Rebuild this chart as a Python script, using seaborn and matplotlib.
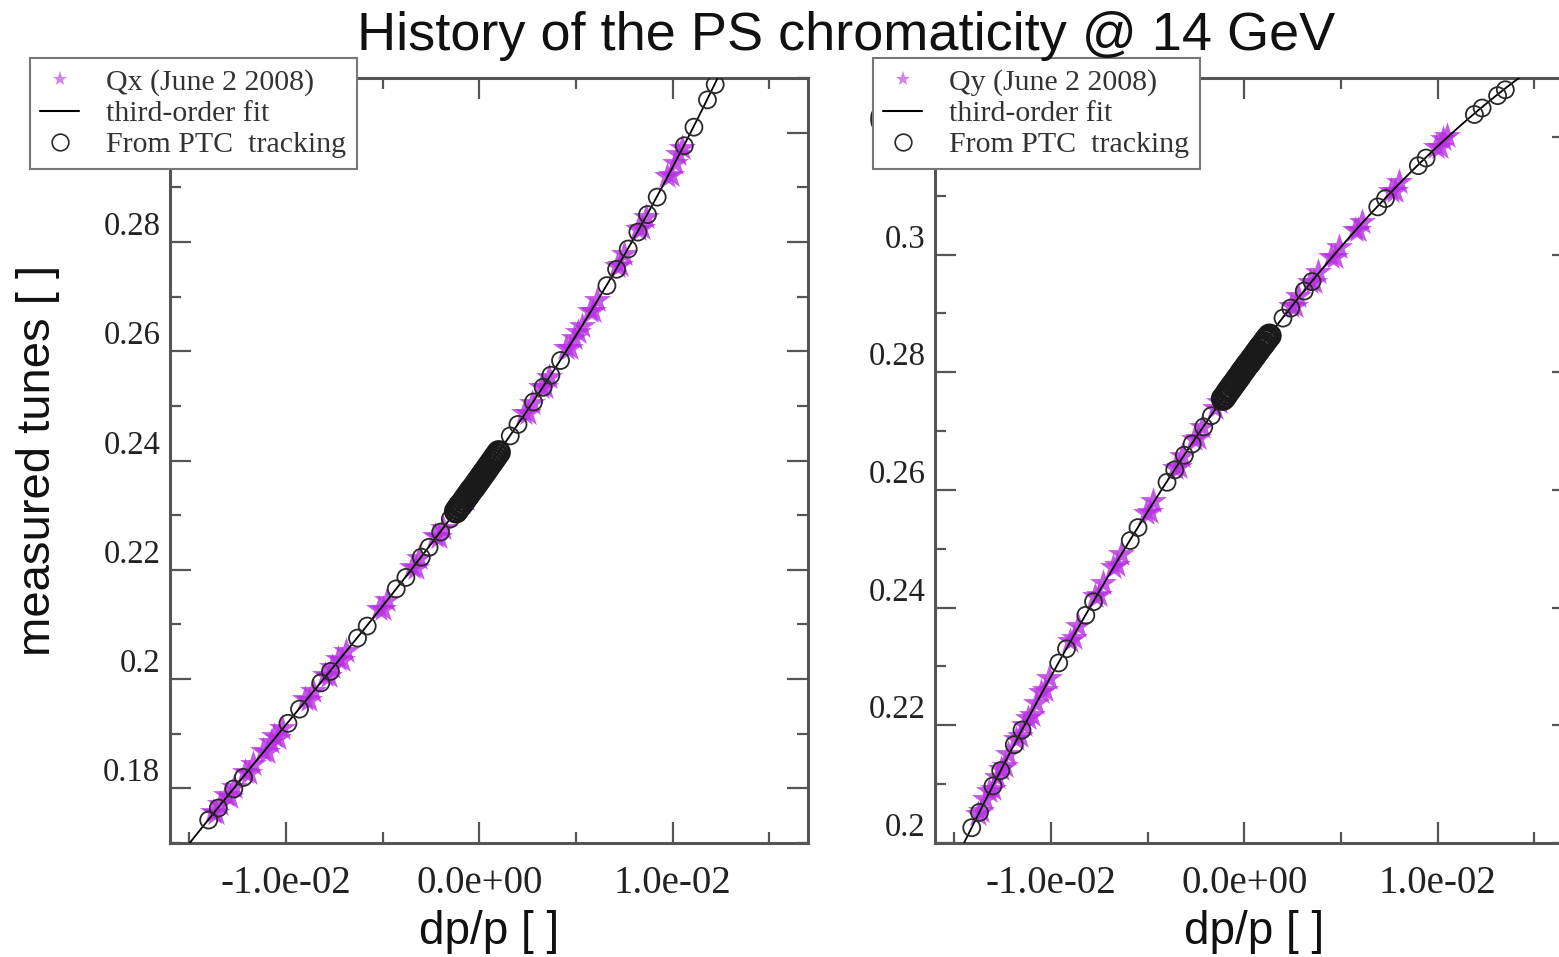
import numpy as np
import seaborn as sns
import matplotlib.pyplot as plt
from matplotlib.lines import Line2D
from matplotlib.ticker import FixedLocator, MultipleLocator

# DATA
# horizontal tune Qx, measured June 2 2008
qx_meas_dp = [-0.0138, -0.0136, -0.0134, -0.0131, -0.0129, -0.0127, -0.0121, -0.0119, -0.0117,
              -0.0112, -0.0110, -0.0108, -0.0106, -0.0104, -0.0102, -0.0090, -0.0088, -0.0086,
              -0.0080, -0.0078, -0.0076, -0.0073, -0.0071, -0.0069, -0.0052, -0.0050, -0.0048,
              -0.0035, -0.0033, -0.0031, -0.0023, -0.0021, -0.0019, -0.0009, -0.0007,
              0.0023, 0.0025, 0.0027, 0.0032, 0.0034, 0.0036, 0.0045, 0.0047, 0.0049,
              0.0051, 0.0053, 0.0057, 0.0059, 0.0061, 0.0071, 0.0073, 0.0075,
              0.0082, 0.0084, 0.0086, 0.0097, 0.0099, 0.0101, 0.0103, 0.0105]
qx_meas = [0.1757, 0.1754, 0.1772, 0.1787, 0.1785, 0.1803, 0.1830, 0.1828, 0.1845,
           0.1869, 0.1866, 0.1884, 0.1895, 0.1893, 0.1910, 0.1964, 0.1962, 0.1979,
           0.2007, 0.2005, 0.2022, 0.2037, 0.2035, 0.2052, 0.2129, 0.2128, 0.2145,
           0.2206, 0.2204, 0.2221, 0.2261, 0.2260, 0.2277, 0.2324, 0.2329,
           0.2487, 0.2487, 0.2505, 0.2534, 0.2534, 0.2553, 0.2605, 0.2606, 0.2625,
           0.2636, 0.2647, 0.2673, 0.2674, 0.2693, 0.2756, 0.2757, 0.2777,
           0.2824, 0.2826, 0.2846, 0.2921, 0.2923, 0.2944, 0.2961, 0.2971]

# Qx from PTC tracking (sparse points and the dense scan around dp = 0)
qx_ptc_dp = [-0.0140, -0.0135, -0.0127, -0.0122, -0.0099, -0.0093, -0.0082, -0.0077,
             -0.0063, -0.0058, -0.0043, -0.0038, -0.0030, -0.0026, -0.0020, -0.0015,
             0.0016, 0.0020, 0.0028, 0.0033, 0.0037, 0.0042, 0.0066, 0.0071,
             0.0077, 0.0082, 0.0087, 0.0092, 0.0106, 0.0111, 0.0118, 0.0122]
qx_ptc = [0.1742, 0.1764, 0.1799, 0.1820, 0.1919, 0.1945, 0.1993, 0.2014,
          0.2075, 0.2097, 0.2165, 0.2186, 0.2223, 0.2241, 0.2269, 0.2293,
          0.2445, 0.2466, 0.2507, 0.2534, 0.2556, 0.2583, 0.2720, 0.2750,
          0.2787, 0.2818, 0.2850, 0.2882, 0.2976, 0.3010, 0.3060, 0.3088]
qx_scan_dp = [-0.0012, -0.0011, -0.0010, -0.0009, -0.0008, -0.0007, -0.0006, -0.0005,
              -0.0004, -0.0003, -0.0002, -0.0001, 0.0000, 0.0001, 0.0002, 0.0003,
              0.0004, 0.0005, 0.0006, 0.0007, 0.0008, 0.0009, 0.0010]
qx_scan = [0.2307, 0.2312, 0.2317, 0.2321, 0.2326, 0.2331, 0.2336, 0.2341,
           0.2346, 0.2350, 0.2355, 0.2360, 0.2365, 0.2370, 0.2375, 0.2380,
           0.2385, 0.2390, 0.2395, 0.2400, 0.2405, 0.2410, 0.2415]

# vertical tune Qy, measured June 2 2008
qy_meas_dp = [-0.0138, -0.0136, -0.0134, -0.0132, -0.0130, -0.0128, -0.0126, -0.0124, -0.0122,
              -0.0118, -0.0116, -0.0114, -0.0112, -0.0110, -0.0108, -0.0105, -0.0103, -0.0101,
              -0.0090, -0.0088, -0.0086, -0.0077, -0.0075, -0.0073, -0.0068, -0.0066, -0.0064,
              -0.0051, -0.0049, -0.0047, -0.0036, -0.0034, -0.0032, -0.0026, -0.0024, -0.0022,
              -0.0015, -0.0013, 0.0024, 0.0026, 0.0028, 0.0034, 0.0036, 0.0038,
              0.0045, 0.0047, 0.0049, 0.0057, 0.0059, 0.0061, 0.0076, 0.0078, 0.0080,
              0.0099, 0.0101, 0.0103, 0.0105]
qy_meas = [0.2049, 0.2054, 0.2075, 0.2088, 0.2092, 0.2113, 0.2126, 0.2131, 0.2151,
           0.2176, 0.2181, 0.2201, 0.2213, 0.2217, 0.2238, 0.2256, 0.2260, 0.2280,
           0.2344, 0.2348, 0.2368, 0.2419, 0.2422, 0.2442, 0.2469, 0.2472, 0.2491,
           0.2560, 0.2562, 0.2582, 0.2637, 0.2639, 0.2658, 0.2686, 0.2688, 0.2707,
           0.2739, 0.2749, 0.2912, 0.2913, 0.2930, 0.2953, 0.2953, 0.2970,
           0.2996, 0.2996, 0.3012, 0.3041, 0.3041, 0.3056, 0.3108, 0.3108, 0.3123,
           0.3182, 0.3182, 0.3196, 0.3201]

# Qy from PTC tracking (sparse points and the dense scan around dp = 0)
qy_ptc_dp = [-0.0141, -0.0137, -0.0130, -0.0126, -0.0119, -0.0115, -0.0096, -0.0092,
             -0.0082, -0.0078, -0.0059, -0.0055, -0.0040, -0.0036, -0.0031, -0.0027,
             -0.0021, -0.0017, 0.0020, 0.0024, 0.0031, 0.0035, 0.0069,
             0.0073, 0.0090, 0.0094, 0.0119, 0.0123, 0.0131, 0.0135]
qy_ptc = [0.2026, 0.2052, 0.2097, 0.2123, 0.2167, 0.2192, 0.2306, 0.2330,
          0.2387, 0.2410, 0.2514, 0.2536, 0.2613, 0.2634, 0.2659, 0.2678,
          0.2707, 0.2726, 0.2892, 0.2909, 0.2938, 0.2954, 0.3081,
          0.3095, 0.3151, 0.3164, 0.3238, 0.3249, 0.3270, 0.3280]
qy_scan_dp = [-0.0011, -0.0010, -0.0009, -0.0008, -0.0007, -0.0006, -0.0005, -0.0004,
              -0.0003, -0.0002, -0.0001, 0.0000, 0.0001, 0.0002, 0.0003, 0.0004,
              0.0005, 0.0006, 0.0007, 0.0008, 0.0009, 0.0010, 0.0011, 0.0012, 0.0013]
qy_scan = [0.2755, 0.2759, 0.2764, 0.2769, 0.2773, 0.2778, 0.2782, 0.2787,
           0.2791, 0.2796, 0.2801, 0.2805, 0.2810, 0.2814, 0.2818, 0.2823,
           0.2827, 0.2832, 0.2836, 0.2841, 0.2845, 0.2849, 0.2854, 0.2858, 0.2862]

# AXES SETTINGS
x_ticks = [-0.01, 0.0, 0.01]
x_tick_labels = ["-1.0e-02", "0.0e+00", "1.0e-02"]
x_minor = [-0.015, -0.005, 0.005, 0.015]
qx_yticks = [0.18, 0.20, 0.22, 0.24, 0.26, 0.28, 0.30]
qx_ytick_labels = ["0.18", "0.2", "0.22", "0.24", "0.26", "0.28", ""]  # 0.3 is under the legend
qy_yticks = [0.20, 0.22, 0.24, 0.26, 0.28, 0.30, 0.32]
qy_ytick_labels = ["0.2", "0.22", "0.24", "0.26", "0.28", "0.3", "0.32"]

meas_color = "#b82ee2"
serif = ["Liberation Serif", "DejaVu Serif"]
sans = ["Liberation Sans", "DejaVu Sans"]

sns.set_theme(style="white")
plt.rcParams['font.family'] = sans


def draw_panel(ax, dp, q, ptc_dp, ptc_q, scan_dp, scan_q, ylim, yticks, ytick_labels,
               legend_name, legend_x):
    ax.set_xlim(-0.016, 0.017)
    ax.set_ylim(*ylim)

    # measured tunes
    sns.scatterplot(x=dp, y=q, ax=ax, marker="*", s=420, color=meas_color,
                    alpha=0.8, linewidth=0, zorder=2)
    # third-order fit of the measurement
    sns.regplot(x=dp, y=q, ax=ax, order=3, scatter=False, ci=None, truncate=False,
                line_kws=dict(color="black", lw=1.3, zorder=3))
    # PTC tracking
    sns.scatterplot(x=ptc_dp, y=ptc_q, ax=ax, marker="o", s=150, facecolor="none",
                    edgecolor="#2a2a2a", linewidth=1.3, zorder=4)
    sns.scatterplot(x=scan_dp, y=scan_q, ax=ax, marker="o", s=230, facecolor="none",
                    edgecolor="#1a1a1a", linewidth=2.4, zorder=4)

    ax.set_xlim(-0.016, 0.017)
    ax.set_ylim(*ylim)

    ax.xaxis.set_major_locator(FixedLocator(x_ticks))
    ax.set_xticklabels(x_tick_labels)
    ax.xaxis.set_minor_locator(FixedLocator(x_minor))
    ax.yaxis.set_major_locator(FixedLocator(yticks))
    ax.set_yticklabels(ytick_labels)
    ax.yaxis.set_minor_locator(MultipleLocator(0.01))

    ax.tick_params(which="both", direction="in", top=True, right=True, bottom=True, left=True,
                   color="#555555", width=1.6)
    ax.tick_params(which="major", length=15)
    ax.tick_params(which="minor", length=8)
    ax.tick_params(axis="x", which="major", pad=16, labelsize=28, labelcolor="#222222")
    ax.tick_params(axis="y", which="major", pad=7, labelsize=23.5, labelcolor="#222222")
    for lab in ax.get_xticklabels() + ax.get_yticklabels():
        lab.set_family(serif)
    for lab in ax.get_yticklabels():
        lab.set_va("bottom")

    for sp in ax.spines.values():
        sp.set_color("#555555")
        sp.set_linewidth(2.2)

    ax.set_xlabel("dp/p [ ]", fontsize=33, color="#111111")
    ax.xaxis.set_label_coords(0.5, -0.088)
    ax.set_ylabel("")

    handles = [
        Line2D([], [], marker="*", ls="none", color=meas_color, alpha=0.6, markersize=11, markeredgewidth=0),
        Line2D([], [], color="black", lw=1.5),
        Line2D([], [], marker="o", ls="none", markerfacecolor="none", markeredgecolor="#2a2a2a",
               markersize=12, markeredgewidth=1.2),
    ]
    labels = [legend_name, "third-order fit", "From PTC  tracking"]
    leg = ax.legend(handles, labels, loc="upper left", bbox_to_anchor=(legend_x, 1 - 58 / 957),
                    bbox_transform=ax.figure.transFigure, borderaxespad=0,
                    prop={"family": serif, "size": 21.5}, frameon=True, fancybox=False,
                    framealpha=1, edgecolor="#777777", labelspacing=0.15, handlelength=1.3,
                    handletextpad=0.9, borderpad=0.35)
    leg.get_frame().set_linewidth(1.5)
    for t in leg.get_texts():
        t.set_color("#333333")


fig = plt.figure(figsize=(15.59, 9.57), dpi=100)
ax1 = fig.add_axes([170 / 1559, 114 / 957, 638 / 1559, 765 / 957])
ax2 = fig.add_axes([935 / 1559, 114 / 957, 638 / 1559, 765 / 957])

draw_panel(ax1, qx_meas_dp, qx_meas, qx_ptc_dp, qx_ptc, qx_scan_dp, qx_scan, (0.17, 0.31),
           qx_yticks, qx_ytick_labels, "Qx (June 2 2008)", 30 / 1559)
draw_panel(ax2, qy_meas_dp, qy_meas, qy_ptc_dp, qy_ptc, qy_scan_dp, qy_scan, (0.20, 0.33),
           qy_yticks, qy_ytick_labels, "Qy (June 2 2008)", 873 / 1559)

fig.text(38 / 1559, 1 - 460 / 957, "measured tunes [ ]", rotation=90, ha="center", va="center",
         fontsize=34, color="#111111")
fig.suptitle("History of the PS chromaticity @ 14 GeV", x=846 / 1559, y=1 - 36 / 957,
             va="center", fontsize=39, color="#111111")

plt.savefig("out.png", dpi=100)
plt.close()
